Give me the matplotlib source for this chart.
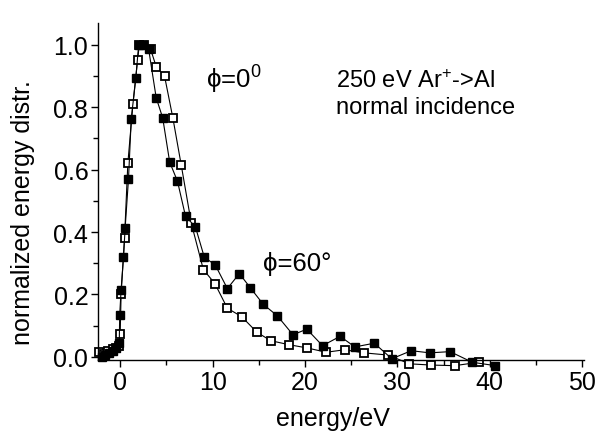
import numpy as np
import matplotlib
matplotlib.use("Agg")
import matplotlib.pyplot as plt
from matplotlib.ticker import MultipleLocator

plt.rcParams['font.family'] = ['Liberation Sans', 'DejaVu Sans']
plt.rcParams['mathtext.fontset'] = 'custom'
plt.rcParams['mathtext.rm'] = 'Liberation Sans'
plt.rcParams['mathtext.it'] = 'Liberation Sans:italic'

# phi = 0 deg (open squares)
e_open = [-2.3, -1.8, -1.3, -0.8, -0.4, -0.1, 0.0, 0.1, 0.47, 0.83, 1.38, 1.88, 2.07, 2.6, 3.3,
          3.9, 4.8, 5.7, 6.6, 7.7, 9.0, 10.25, 11.6, 13.15, 14.8, 16.3, 18.3, 20.2, 22.3,
          24.3, 26.4, 29.0, 31.3, 33.6, 36.2, 38.8]
n_open = [0.017, 0.010, 0.020, 0.025, 0.030, 0.036, 0.073, 0.20, 0.38, 0.62, 0.81, 0.95, 1.0, 1.0, 0.985,
          0.93, 0.90, 0.766, 0.616, 0.428, 0.28, 0.235, 0.156, 0.129, 0.079, 0.052, 0.039, 0.029, 0.015,
          0.023, 0.013, 0.006, -0.022, -0.026, -0.028, -0.017]

# phi = 60 deg (filled squares)
e_fill = [-2.0, -1.6, -1.2, -0.8, -0.4, -0.1, -0.05, 0.1, 0.36, 0.54, 0.9, 1.2, 1.7, 2.0, 2.46, 3.08,
          3.9, 4.6, 5.36, 6.2, 7.07, 8.15, 9.1, 10.3, 11.6, 12.9, 14.1, 15.5, 17.0, 18.7, 20.2,
          21.9, 23.8, 25.4, 27.5, 29.4, 31.5, 33.5, 35.7, 38.1, 40.6]
n_fill = [0.0, 0.005, 0.012, 0.02, 0.028, 0.045, 0.135, 0.215, 0.32, 0.414, 0.57, 0.763, 0.895, 1.0, 1.0, 0.986,
          0.83, 0.766, 0.624, 0.563, 0.451, 0.416, 0.32, 0.294, 0.219, 0.267, 0.221, 0.168, 0.132, 0.071, 0.089,
          0.036, 0.066, 0.032, 0.044, -0.006, 0.020, 0.013, 0.017, -0.017, -0.028]

fig = plt.figure(figsize=(5.99, 4.35), dpi=100)
ax = fig.add_axes([0.1636, 0.17, 0.8114, 0.775])

ax.plot(e_open, n_open, '-s', color='black', lw=0.8, ms=5.5, mfc='white', mec='black', mew=1.3, clip_on=False)
ax.plot(e_fill, n_fill, '-s', color='black', lw=0.8, ms=5.5, mfc='black', mec='black', clip_on=False, zorder=3)

ax.set_xlim(-2.4, 50.2)
ax.set_ylim(-0.01, 1.07)
ax.xaxis.set_major_locator(MultipleLocator(10))
ax.xaxis.set_minor_locator(MultipleLocator(5))
ax.yaxis.set_major_locator(MultipleLocator(0.2))
ax.yaxis.set_minor_locator(MultipleLocator(0.1))
ax.yaxis.set_major_formatter(matplotlib.ticker.FormatStrFormatter('%.1f'))

for s in ['top', 'right']:
    ax.spines[s].set_visible(False)
for s in ['left', 'bottom']:
    ax.spines[s].set_linewidth(1.0)

ax.tick_params(which='major', direction='out', length=5, width=1, labelsize=18, pad=2)
ax.tick_params(which='minor', direction='out', length=3.5, width=1)

ax.set_xlabel('energy/eV', fontsize=18)
ax.set_ylabel('normalized energy distr.', fontsize=18)
ax.xaxis.set_label_coords(0.483, -0.135)
ax.yaxis.set_label_coords(-0.13, 0.44)

ax.text(9.3, 0.89, r'ϕ=0$^{\mathrm{0}}$', fontsize=18.5, va='center', ha='left')
ax.text(23.4, 0.885, r'250 eV Ar$^{\mathrm{+}}$->Al', fontsize=17, va='center', ha='left')
ax.text(23.4, 0.80, 'normal incidence', fontsize=17, va='center', ha='left')
ax.text(15.5, 0.30, 'ϕ=60°', fontsize=18.5, va='center', ha='left')

fig.savefig('out.png', dpi=100)
